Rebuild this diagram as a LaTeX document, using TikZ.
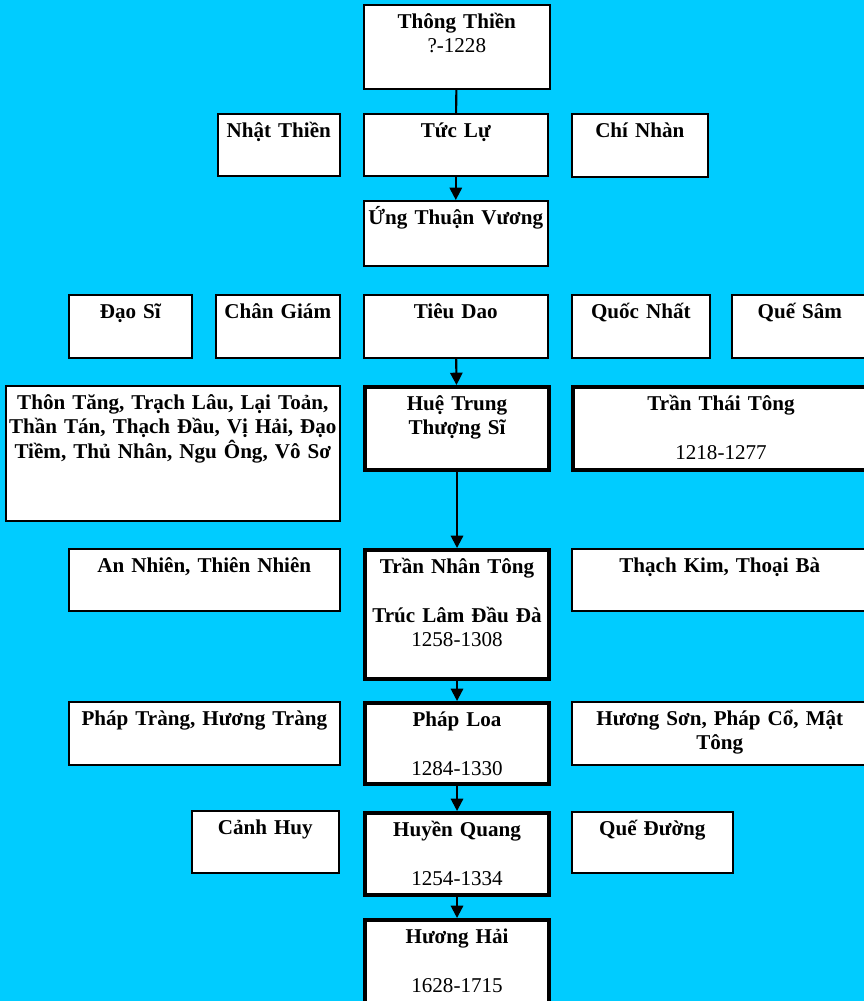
\documentclass[tikz,border=0pt]{standalone}
\usepackage{fontspec}
\setmainfont{Liberation Serif}
\usepackage{xcolor}
\usepackage{tikz}
\usetikzlibrary{arrows.meta}
\definecolor{chartbg}{HTML}{00CCFF}
\tikzset{
  sect/.style={draw=black,line width=0.9pt,fill=white,anchor=north west,
    inner xsep=0pt,inner ysep=3pt,align=center,text height=10.5pt,
    font=\fontsize{12}{13.8}\selectfont\bfseries},
  lead/.style={sect,line width=2.3pt},
  sz/.style 2 args={minimum width=#1*0.02cm,text width=#1*0.02cm,
    text depth=#2*0.02cm-16.5pt},
  link/.style={line width=1.2pt,draw=black},
  desc/.style={link,-{Triangle[length=7pt,width=7pt]}}
}
\begin{document}
\begin{tikzpicture}[x=0.02cm,y=-0.02cm]
  \path[use as bounding box,fill=chartbg] (0,0) rectangle (864,1001);
  % main line
  \node[sect,sz={186}{84}] (thongthien) at (363,4) {Thông Thiền\\\mdseries ?-1228};
  \node[sect,sz={184}{62}] (tucluu) at (363,113) {Tức Lự};
  \node[sect,sz={184}{65}] (ungthuan) at (363,200) {Ứng Thuận Vương};
  \node[sect,sz={184}{63}] (tieudao) at (363,294) {Tiêu Dao};
  \node[lead,sz={184}{83}] (huetrung) at (363,385) {Huệ Trung\\Thượng Sĩ};
  \node[lead,sz={184}{129}] (nhantong) at (363,548) {Trần Nhân Tông\\[\baselineskip]Trúc Lâm Đầu Đà\\\mdseries 1258-1308};
  \node[lead,sz={184}{81}] (phaploa) at (363,701) {Pháp Loa\\[\baselineskip]\mdseries 1284-1330};
  \node[lead,sz={184}{82}] (huyenquang) at (363,811) {Huyền Quang\\[\baselineskip]\mdseries 1254-1334};
  \node[lead,sz={184}{92}] (huonghai) at (363,918) {Hương Hải\\[\baselineskip]\mdseries 1628-1715};
  % side lines
  \node[sect,sz={122}{62}] (nhatthien) at (217,113) {Nhật Thiền};
  \node[sect,sz={136}{63}] (chinhan) at (571,113) {Chí Nhàn};
  \node[sect,sz={123}{63}] (daosi) at (68,294) {Đạo Sĩ};
  \node[sect,sz={124}{63}] (changiam) at (215,294) {Chân Giám};
  \node[sect,sz={138}{63}] (quocnhat) at (571,294) {Quốc Nhất};
  \node[sect,sz={136}{63}] (quesam) at (731,294) {Quế Sâm};
  \node[sect,sz={334}{135}] (thontang) at (5,385) {Thôn Tăng, Trạch Lâu, Lại Toản,\\Thần Tán, Thạch Đầu, Vị Hải, Đạo\\Tiềm, Thủ Nhân, Ngu Ông, Vô Sơ};
  \node[lead,sz={296}{83}] (thaitong) at (571,385) {Trần Thái Tông\\[\baselineskip]\mdseries 1218-1277};
  \node[sect,sz={271}{62}] (annhien) at (68,548) {An Nhiên, Thiên Nhiên};
  \node[sect,sz={296}{62}] (thachkim) at (571,548) {Thạch Kim, Thoại Bà};
  \node[sect,sz={271}{63}] (phaptrang) at (68,701) {Pháp Tràng, Hương Tràng};
  \node[sect,sz={296}{63}] (huongson) at (571,701) {Hương Sơn, Pháp Cổ, Mật\\Tông};
  \node[sect,sz={147}{62}] (canhhuy) at (191,810) {Cảnh Huy};
  \node[sect,sz={161}{61}] (queduong) at (571,811) {Quế Đường};
  % connectors
  \draw[link] (thongthien) -- (tucluu);
  \draw[desc] (tucluu) -- (ungthuan);
  \draw[desc] (tieudao) -- (huetrung);
  \draw[desc] (huetrung) -- (nhantong);
  \draw[desc] (nhantong) -- (phaploa);
  \draw[desc] (phaploa) -- (huyenquang);
  \draw[desc] (huyenquang) -- (huonghai);
\end{tikzpicture}
\end{document}
